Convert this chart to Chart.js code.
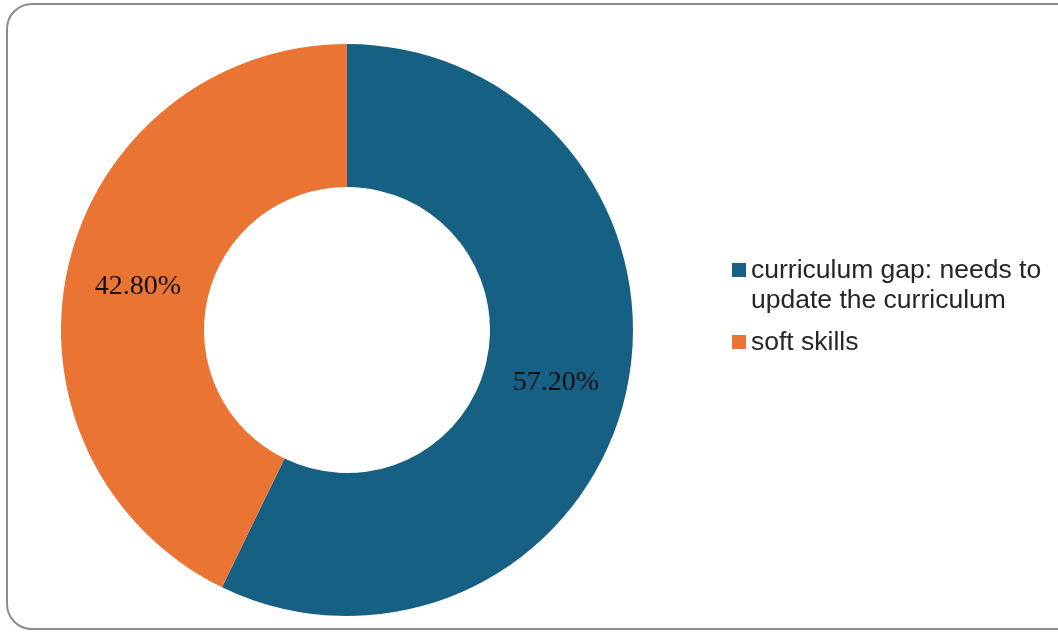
<!DOCTYPE html>
<html lang="en">
<head>
<meta charset="UTF-8">
<title>Doughnut</title>
<style>
  html, body { margin: 0; padding: 0; background: #fff; }
  #wrap { position: relative; width: 1058px; height: 636px; overflow: hidden; }
  #frame { position: absolute; left: 6px; top: 3px; width: 1080px; height: 627px;
           border: 2px solid #8c8c8c; border-radius: 26px; box-sizing: border-box; }
  canvas { position: absolute; left: 0; top: 0; }
</style>
</head>
<body>
<div id="wrap">
  <div id="frame"></div>
  <canvas id="myChart" width="1058" height="636"></canvas>
</div>

<script src="https://cdn.jsdelivr.net/npm/chart.js@4"></script>
<script>
const categories = [['curriculum gap: needs to', 'update the curriculum'], ['soft skills']];
const values = [57.2, 42.8];
const valueLabels = ['57.20%', '42.80%'];
const colors = ['#166083', '#ea7433'];

// percentage labels at the middle of each slice
const sliceLabels = {
  id: 'sliceLabels',
  afterDatasetsDraw(chart) {
    const ctx = chart.ctx;
    const meta = chart.getDatasetMeta(0);
    ctx.save();
    ctx.font = '28px "Liberation Serif", serif';
    ctx.fillStyle = '#111';
    ctx.textAlign = 'center';
    ctx.textBaseline = 'middle';
    meta.data.forEach((arc, i) => {
      const p = arc.tooltipPosition();
      ctx.fillText(valueLabels[i], p.x, p.y + 5);
    });
    ctx.restore();
  }
};

// legend on the right, with wrapped first label
const sideLegend = {
  id: 'sideLegend',
  afterDraw(chart) {
    const ctx = chart.ctx;
    ctx.save();
    ctx.font = '26.5px "Liberation Sans", Arial, sans-serif';
    ctx.textBaseline = 'alphabetic';
    ctx.textAlign = 'left';
    let y = 278;
    categories.forEach((lines, i) => {
      ctx.fillStyle = colors[i];
      ctx.fillRect(732, y - 15, 14, 14);
      ctx.fillStyle = '#262626';
      lines.forEach((t, j) => {
        ctx.fillText(t, 751, y);
        y += 30;
      });
      y += 12;
    });
    ctx.restore();
  }
};

new Chart(document.getElementById('myChart'), {
  type: 'doughnut',
  data: {
    labels: categories.map(l => l.join(' ')),
    datasets: [{
      data: values,
      backgroundColor: colors,
      borderWidth: 0
    }]
  },
  options: {
    responsive: false,
    animation: false,
    cutout: '50%',
    layout: { padding: { left: 61, top: 44, right: 425, bottom: 20 } },
    plugins: {
      legend: { display: false },
      tooltip: { enabled: false }
    }
  },
  plugins: [sliceLabels, sideLegend]
});
</script>
</body>
</html>
